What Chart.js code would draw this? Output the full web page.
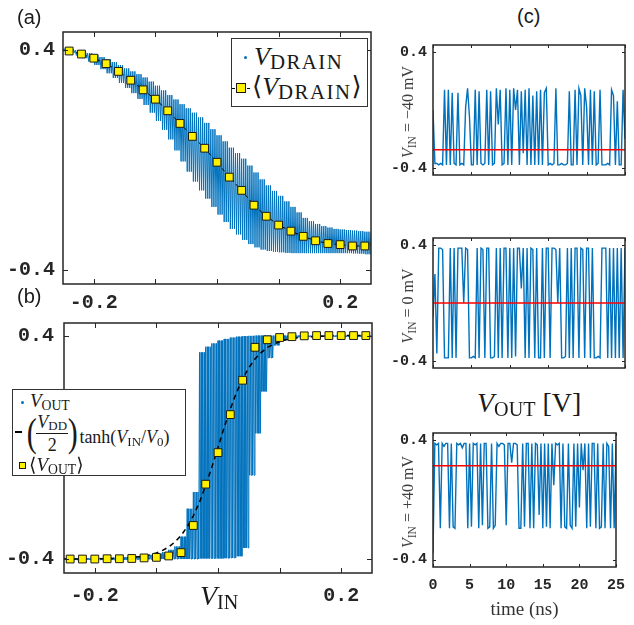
<!DOCTYPE html>
<html>
<head>
<meta charset="utf-8">
<script src="https://cdn.jsdelivr.net/npm/chart.js@4.4.1/dist/chart.umd.min.js"></script>
<style>
  body { margin: 0; background: #fff; }
  #wrap { position: relative; width: 634px; height: 625px; overflow: hidden; }
  canvas { position: absolute; }
  .lbl { position: absolute; white-space: nowrap; line-height: 1; color: #1a1a1a; }
  .sans { font-family: "Liberation Sans", Arial, sans-serif; }
  .serif { font-family: "Liberation Serif", "DejaVu Serif", serif; }
  .sb { font-size: 0.72em; position: relative; top: 0.22em; font-style: normal; }
  .sbl { font-size: 0.8em; position: relative; top: 0.2em; font-style: normal; letter-spacing: 1.5px; }
  .box { position: absolute; background: #fff; border: 1.5px solid #333; box-sizing: border-box; }
  .dot { position: absolute; width: 3px; height: 3px; border-radius: 50%; background: #0072BD; }
  .sq { position: absolute; background: #fff000; border: 1px solid #1a1a1a; box-sizing: border-box; }
  .rot { transform: translate(-50%, -50%) rotate(-90deg); color: #404040; font-size: 16px; }
</style>
</head>
<body>
<div id="wrap">
  <canvas id="chartA" width="380" height="312" style="left:0;top:0"></canvas>
  <canvas id="chartB" width="380" height="325" style="left:0;top:300px"></canvas>
  <canvas id="chartC1" width="254" height="160" style="left:380px;top:30px"></canvas>
  <canvas id="chartC2" width="254" height="160" style="left:380px;top:223px"></canvas>
  <canvas id="chartC3" width="254" height="207" style="left:380px;top:418px"></canvas>

  <div class="lbl sans" style="left:17px;top:7px;font-size:20px">(a)</div>
  <div class="lbl sans" style="left:17px;top:286px;font-size:20px">(b)</div>
  <div class="lbl sans" style="left:517px;top:6px;font-size:20px">(c)</div>

  <!-- legend (a) -->
  <div class="box" style="left:231px;top:38px;width:137px;height:69px"></div>
  <div class="dot" style="left:244px;top:56px"></div>
  <div class="lbl serif" style="left:254px;top:44px;font-size:26px"><i>V</i><span class="sbl">DRAIN</span></div>
  <div style="position:absolute;left:232px;top:88px;width:18px;border-top:1px dashed #000"></div>
  <div class="sq" style="left:236px;top:83px;width:10px;height:10px"></div>
  <div class="lbl serif" style="left:252px;top:74px;font-size:26px">⟨<i>V</i><span class="sbl">DRAIN</span>⟩</div>

  <!-- legend (b) -->
  <div class="box" style="left:12px;top:389px;width:174px;height:87px"></div>
  <div class="dot" style="left:21px;top:401px"></div>
  <div class="lbl serif" style="left:30px;top:391px;font-size:19px"><i>V</i><span class="sb">OUT</span></div>
  <div style="position:absolute;left:15px;top:431px;width:7px;height:2px;background:#000"></div>
  <div class="lbl serif" style="left:25px;top:410px;height:46px;font-size:18px;display:flex;align-items:center">
    <span style="font-size:40px;display:inline-block;transform:scaleX(0.75);margin-right:-2px">(</span>
    <span style="display:inline-flex;flex-direction:column;align-items:center">
      <span style="padding:0 1px 2px"><i>V</i><span class="sb">DD</span></span>
      <span style="align-self:stretch;border-top:1px solid #1a1a1a"></span>
      <span style="padding-top:2px">2</span>
    </span>
    <span style="font-size:40px;display:inline-block;transform:scaleX(0.75);margin-left:-2px">)</span>
    <span style="position:relative;top:4px">tanh(<i>V</i><span class="sb">IN</span>/<i>V</i><span class="sb">0</span>)</span>
  </div>
  <div class="sq" style="left:19px;top:462px;width:7px;height:7px"></div>
  <div class="lbl serif" style="left:29px;top:455px;font-size:19px">⟨<i>V</i><span class="sb">OUT</span>⟩</div>

  <!-- axis labels -->
  <div class="lbl serif" style="left:200px;top:582px;font-size:28px"><i>V</i><span class="sb">IN</span></div>
  <div class="lbl serif" style="left:477px;top:389px;font-size:28px"><i>V</i><span class="sb">OUT</span> [V]</div>
  <div class="lbl serif rot" style="left:408px;top:112px"><i>V</i><span class="sb">IN</span> = −40 mV</div>
  <div class="lbl serif rot" style="left:408px;top:306px"><i>V</i><span class="sb">IN</span> = 0 mV</div>
  <div class="lbl serif rot" style="left:408px;top:502px"><i>V</i><span class="sb">IN</span> = +40 mV</div>
</div>

<script>
// ---- data ----
const vinGrid = [-0.24,-0.22,-0.2,-0.18,-0.16,-0.14,-0.12,-0.1,-0.08,-0.06,-0.04,-0.02,0,
  0.02,0.04,0.06,0.08,0.1,0.12,0.14,0.16,0.18,0.2,0.22,0.24];
const drainMean = [0.396,0.385,0.370,0.350,0.322,0.290,0.255,0.221,0.179,0.133,0.086,0.043,-0.008,
  -0.062,-0.110,-0.164,-0.204,-0.236,-0.258,-0.277,-0.293,-0.303,-0.307,-0.312,-0.312];
const voutMean = [-0.400,-0.400,-0.400,-0.399,-0.399,-0.398,-0.396,-0.394,-0.389,-0.377,-0.280,-0.132,-0.019,
  0.117,0.240,0.358,0.385,0.393,0.396,0.399,0.400,0.400,0.400,0.400,0.400];

// envelope of the raw scatter, every 10 mV
const bandX = [-0.25,-0.24,-0.23,-0.22,-0.21,-0.2,-0.19,-0.18,-0.17,-0.16,
  -0.15,-0.14,-0.13,-0.12,-0.11,-0.1,-0.09,-0.08,-0.07,-0.06,
  -0.05,-0.04,-0.03,-0.02,-0.01,0,0.01,0.02,0.03,0.04,
  0.05,0.06,0.07,0.08,0.09,0.1,0.11,0.12,0.13,0.14,
  0.15,0.16,0.17,0.18,0.19,0.2,0.21,0.22,0.23,0.24,0.25];
const drainHi = [0.405,0.403,0.399,0.394,0.388,0.382,0.374,0.366,0.356,0.345,
  0.333,0.322,0.312,0.300,0.285,0.270,0.253,0.236,0.220,0.203,
  0.188,0.172,0.155,0.135,0.112,0.090,0.068,0.045,0.025,0.005,
  -0.020,-0.045,-0.070,-0.092,-0.112,-0.130,-0.150,-0.170,-0.190,-0.210,
  -0.222,-0.232,-0.240,-0.245,-0.250,-0.252,-0.254,-0.256,-0.258,-0.260,-0.262];
const drainLo = [0.395,0.390,0.380,0.370,0.358,0.345,0.330,0.315,0.298,0.280,
  0.262,0.243,0.222,0.200,0.172,0.142,0.110,0.075,0.035,-0.005,
  -0.042,-0.078,-0.110,-0.140,-0.170,-0.198,-0.225,-0.250,-0.270,-0.290,
  -0.305,-0.317,-0.325,-0.330,-0.333,-0.335,-0.337,-0.338,-0.338,-0.338,
  -0.338,-0.338,-0.338,-0.338,-0.338,-0.338,-0.338,-0.339,-0.340,-0.342,-0.345];
const voutHi = [-0.397,-0.397,-0.397,-0.397,-0.397,-0.396,-0.396,-0.395,-0.395,-0.394,
  -0.393,-0.392,-0.390,-0.388,-0.385,-0.381,-0.375,-0.367,-0.355,-0.320,
  -0.220,-0.160,0.340,0.360,0.372,0.382,0.388,0.393,0.396,0.398,
  0.399,0.400,0.400,0.400,0.400,0.400,0.400,0.400,0.400,0.400,
  0.400,0.400,0.400,0.400,0.400,0.400,0.400,0.400,0.400,0.400,0.400];
const voutLo = [-0.403,-0.403,-0.403,-0.403,-0.403,-0.403,-0.403,-0.403,-0.403,-0.403,
  -0.403,-0.402,-0.402,-0.401,-0.401,-0.400,-0.400,-0.400,-0.400,-0.400,
  -0.400,-0.400,-0.398,-0.398,-0.398,-0.398,-0.397,-0.396,-0.390,-0.360,
  -0.100,0.050,0.200,0.320,0.365,0.382,0.389,0.392,0.394,0.395,
  0.396,0.396,0.396,0.396,0.396,0.396,0.396,0.396,0.396,0.396,0.396];
const tanhFit = [-0.400,-0.400,-0.400,-0.400,-0.400,-0.399,-0.399,-0.399,-0.398,-0.397,
  -0.396,-0.395,-0.392,-0.389,-0.385,-0.378,-0.369,-0.357,-0.339,-0.316,
  -0.285,-0.245,-0.196,-0.137,-0.071,0,0.071,0.137,0.196,0.245,
  0.285,0.316,0.339,0.357,0.369,0.378,0.385,0.389,0.392,0.395,
  0.396,0.397,0.398,0.399,0.399,0.399,0.400,0.400,0.400,0.400,0.400];

const vinTicks = [-0.2,-0.1,0,0.1,0.2];
const vinLabels = ['-0.2','','','','0.2'];
const voltTicks = [-0.4,0.4];

// panel (c): V_OUT vs time, 0.25 ns samples
const timeNs = [0,0.25,0.5,0.75,1,1.25,1.5,1.75,2,2.25,2.5,2.75,3,3.25,3.5,3.75,4,4.25,4.5,4.75,
  5,5.25,5.5,5.75,6,6.25,6.5,6.75,7,7.25,7.5,7.75,8,8.25,8.5,8.75,9,9.25,9.5,9.75,
  10,10.25,10.5,10.75,11,11.25,11.5,11.75,12,12.25,12.5,12.75,13,13.25,13.5,13.75,14,14.25,14.5,14.75,
  15,15.25,15.5,15.75,16,16.25,16.5,16.75,17,17.25,17.5,17.75,18,18.25,18.5,18.75,19,19.25,19.5,19.75,
  20,20.25,20.5,20.75,21,21.25,21.5,21.75,22,22.25,22.5,22.75,23,23.25,23.5,23.75,24,24.25,24.5,24.75,25];
const voutNeg40 = [0.00,-0.37,-0.37,-0.38,-0.37,-0.38,0.14,-0.38,0.14,-0.38,
  0.12,-0.37,-0.38,0.12,-0.38,-0.37,-0.38,0.02,0.15,-0.05,
  -0.38,-0.38,0.14,-0.38,0.13,-0.37,-0.38,-0.37,0.14,-0.38,
  0.13,-0.38,-0.37,0.15,-0.10,0.14,-0.38,-0.37,0.15,-0.38,
  0.14,-0.38,0.15,0.00,0.14,-0.38,0.13,-0.30,0.14,-0.38,
  0.15,-0.38,0.10,-0.38,0.13,-0.38,0.14,-0.38,0.12,0.15,
  -0.38,-0.37,-0.38,-0.37,0.15,-0.38,-0.38,-0.37,-0.38,-0.38,
  -0.37,0.13,-0.38,-0.38,0.14,-0.38,0.15,0.10,-0.38,0.15,
  0.02,-0.38,0.14,-0.38,0.13,-0.38,-0.37,0.14,-0.38,-0.38,
  -0.38,-0.37,-0.38,0.14,0.10,-0.38,0.06,-0.38,-0.38,0.14,-0.20];
const voutZero = [-0.10,0.20,-0.35,0.38,0.38,0.37,-0.38,-0.38,-0.38,0.38,
  -0.38,0.38,-0.38,0.38,0.38,0.38,0.00,0.38,0.37,-0.38,
  -0.38,-0.37,-0.38,0.38,-0.38,0.38,0.37,-0.38,0.38,0.38,
  -0.38,-0.38,-0.37,0.38,-0.38,0.38,-0.38,0.38,0.38,-0.38,
  0.38,-0.38,0.38,-0.37,0.38,0.38,0.10,0.38,-0.38,0.38,
  -0.38,0.38,0.37,-0.38,0.38,-0.38,-0.38,0.38,-0.38,0.38,
  0.38,-0.38,0.38,0.38,0.37,0.00,0.38,-0.38,-0.38,-0.37,
  0.38,-0.38,0.38,-0.38,0.38,0.38,-0.38,0.38,0.37,-0.38,
  0.38,0.38,-0.38,0.38,-0.38,-0.38,-0.37,-0.38,0.38,0.38,
  0.38,-0.38,0.38,-0.38,0.38,-0.38,0.38,-0.38,0.38,-0.38,0.38];
const voutPos40 = [-0.36,0.38,0.37,0.38,-0.19,0.38,0.36,0.38,0.38,-0.19,
  0.38,-0.18,-0.19,0.38,0.37,0.38,0.35,0.38,0.38,-0.19,
  0.38,-0.18,0.38,0.37,0.38,-0.19,0.38,-0.17,0.38,0.38,
  -0.19,-0.18,0.38,-0.19,-0.17,0.38,0.36,0.38,0.38,0.37,
  -0.17,0.38,0.38,0.25,0.38,0.38,0.37,-0.19,-0.19,0.38,
  -0.18,0.38,0.38,-0.19,0.38,-0.19,0.38,0.37,-0.10,0.38,
  -0.19,0.38,-0.18,0.38,-0.19,0.38,0.10,0.38,0.37,0.38,
  -0.19,0.38,-0.18,-0.19,0.38,-0.17,-0.19,0.38,-0.18,0.38,
  -0.05,0.38,0.20,0.38,-0.19,0.38,-0.18,0.38,0.38,-0.19,
  0.38,-0.19,-0.18,0.38,-0.19,0.38,0.36,-0.19,0.38,-0.19,0.38];
const voutAverages = [-0.276, 0.0, 0.23]; // red lines, -40 / 0 / +40 mV
const timeTicks = [0,5,10,15,20,25];

// ---- styling ----
const blue = '#0072BD';
const yellow = '#fff000';
const ink = '#262626';
const mono = '"Liberation Mono", "Courier New", monospace';

// box around the axes with inward tick marks on all four sides
function framePlugin(len) {
  return {
    id: 'frame',
    afterDraw(chart) {
      const { ctx, chartArea: a, scales: { x, y } } = chart;
      ctx.save();
      ctx.strokeStyle = ink;
      ctx.lineWidth = 1;
      ctx.beginPath();
      x.ticks.forEach(t => {
        const px = Math.round(x.getPixelForValue(t.value)) + 0.5;
        ctx.moveTo(px, a.bottom); ctx.lineTo(px, a.bottom - len);
        ctx.moveTo(px, a.top); ctx.lineTo(px, a.top + len);
      });
      y.ticks.forEach(t => {
        const py = Math.round(y.getPixelForValue(t.value)) + 0.5;
        ctx.moveTo(a.left, py); ctx.lineTo(a.left + len, py);
        ctx.moveTo(a.right, py); ctx.lineTo(a.right - len, py);
      });
      ctx.stroke();
      ctx.lineWidth = 1.5;
      ctx.strokeRect(a.left, a.top, a.right - a.left, a.bottom - a.top);
      ctx.restore();
    }
  };
}

// the raw sweep is a dense saw-tooth between the envelope values
function zigzag(xs, hi, lo, perStep) {
  const step = xs[1] - xs[0];
  const pts = [];
  xs.forEach((x, i) => {
    for (let k = 0; k < perStep; k++) {
      pts.push({ x: x + k * step / perStep, y: k % 2 === 0 ? hi[i] : lo[i] });
    }
  });
  return pts;
}

function axis(min, max, ticks, labels, size, pad, fitFn, show) {
  return {
    type: 'linear', min: min, max: max,
    afterBuildTicks: s => { s.ticks = ticks.map(v => ({ value: v })); },
    afterFit: fitFn,
    grid: { display: false, drawTicks: false },
    border: { display: false },
    ticks: {
      display: show,
      autoSkip: false, maxRotation: 0, padding: pad, color: ink,
      font: { family: mono, weight: 'bold', size: size },
      callback: v => labels[ticks.indexOf(v)]
    }
  };
}

const baseOptions = (padding) => ({
  responsive: false,
  animation: false,
  devicePixelRatio: 1,
  layout: { padding: padding },
  elements: { line: { tension: 0 } },
  plugins: { legend: { display: false }, tooltip: { enabled: false } }
});

// (a) drain voltage
new Chart(document.getElementById('chartA'), {
  type: 'line',
  data: {
    datasets: [
      {
        data: vinGrid.map((x, i) => ({ x: x, y: drainMean[i] })),
        borderColor: '#000', borderWidth: 1, borderDash: [4, 3],
        pointStyle: 'rect', pointRadius: 5.5,
        pointBackgroundColor: yellow, pointBorderColor: '#1a1a1a', pointBorderWidth: 1
      },
      {
        data: zigzag(bandX, drainHi, drainLo, 6),
        borderColor: blue, borderWidth: 1, pointRadius: 0
      }
    ]
  },
  options: Object.assign(baseOptions({ left: 0, top: 32, right: 9, bottom: 0 }), {
    scales: {
      x: axis(-0.25, 0.25, vinTicks, vinLabels, 20, 7, s => { s.height = 28; }, true),
      y: axis(-0.45, 0.465, voltTicks, ['-0.4', '0.4'], 20, 8, s => { s.width = 63; }, true)
    }
  }),
  plugins: [framePlugin(5)]
});

// (b) output voltage
new Chart(document.getElementById('chartB'), {
  type: 'line',
  data: {
    datasets: [
      {
        data: vinGrid.map((x, i) => ({ x: x, y: voutMean[i] })),
        showLine: false,
        pointStyle: 'rect', pointRadius: 5.5,
        pointBackgroundColor: yellow, pointBorderColor: '#1a1a1a', pointBorderWidth: 1
      },
      {
        data: bandX.map((x, i) => ({ x: x, y: tanhFit[i] })),
        borderColor: '#000', borderWidth: 1.5, borderDash: [5, 4], pointRadius: 0
      },
      {
        data: zigzag(bandX, voutHi, voutLo, 8),
        borderColor: blue, borderWidth: 1, pointRadius: 0
      }
    ]
  },
  options: Object.assign(baseOptions({ left: 0, top: 23, right: 8, bottom: 0 }), {
    scales: {
      x: axis(-0.25, 0.25, vinTicks, vinLabels, 20, 11, s => { s.height = 52; }, true),
      y: axis(-0.45, 0.445, voltTicks, ['-0.4', '0.4'], 20, 10, s => { s.width = 64; }, true)
    }
  }),
  plugins: [framePlugin(5)]
});

// (c) time traces
function traceChart(id, trace, avg, xHeight, showTime) {
  const xAxis = axis(0, 25, timeTicks, timeTicks.map(String), 15, 9, s => { s.height = xHeight; }, showTime);
  if (showTime) {
    xAxis.title = {
      display: true, text: 'time (ns)', color: '#333',
      font: { family: '"Liberation Serif", serif', size: 19 },
      padding: { top: 0, bottom: 4 }
    };
  }
  new Chart(document.getElementById(id), {
    type: 'line',
    data: {
      datasets: [
        {
          data: [{ x: 0, y: avg }, { x: 25, y: avg }],
          borderColor: '#ff0000', borderWidth: 1.5, pointRadius: 0
        },
        {
          data: timeNs.map((t, i) => ({ x: t, y: trace[i] })),
          borderColor: blue, borderWidth: 1.4, pointRadius: 0
        }
      ]
    },
    options: Object.assign(baseOptions({ left: 0, top: 10, right: 9, bottom: 0 }), {
      scales: {
        x: xAxis,
        y: axis(-0.45, 0.45, voltTicks, ['-0.4', '0.4'], 15, 6, s => { s.width = 53; }, true)
      }
    }),
    plugins: [framePlugin(3)]
  });
}

traceChart('chartC1', voutNeg40, voutAverages[0], 11, false);
traceChart('chartC2', voutZero, voutAverages[1], 9, false);
traceChart('chartC3', voutPos40, voutAverages[2], 58, true);
</script>
</body>
</html>
